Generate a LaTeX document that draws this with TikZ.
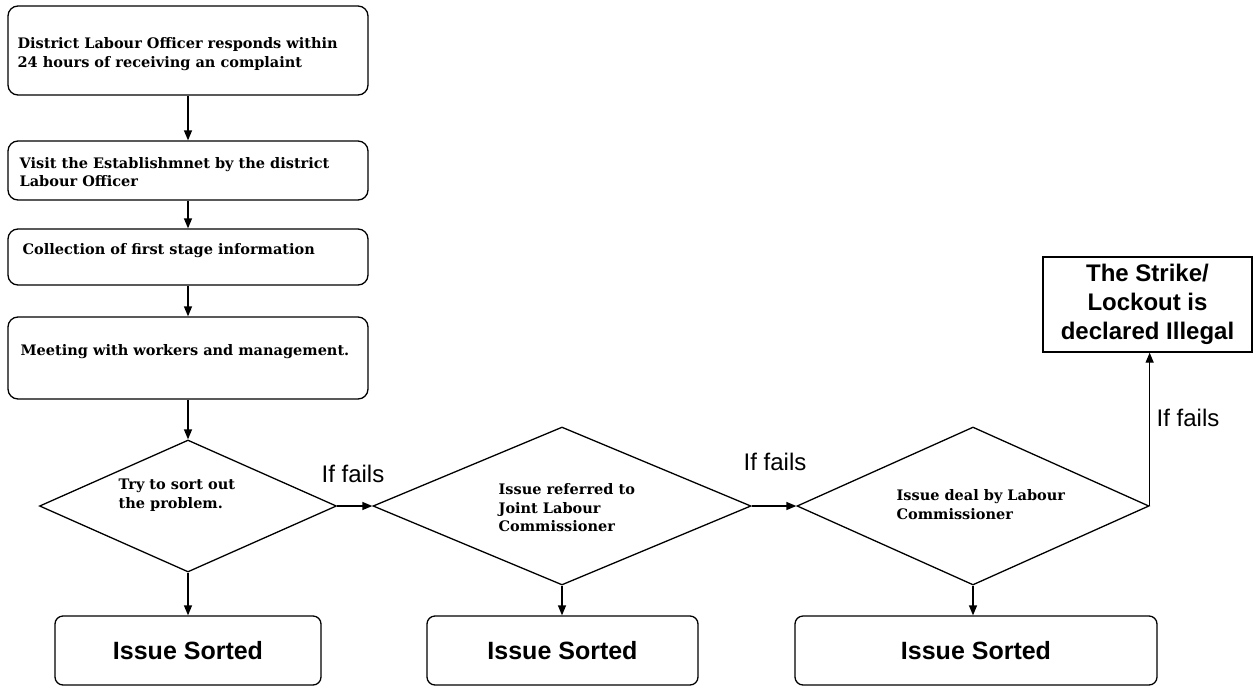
\documentclass[tikz,border=0pt]{standalone}
\usepackage{fontspec}
\usetikzlibrary{shapes.geometric,arrows.meta}
\newfontfamily\stepfont{DejaVu Serif}
\newfontfamily\headfont{Liberation Sans}

\begin{document}
\begin{tikzpicture}[x=1pt,y=-1pt,
  line width=1.3pt,
  stepbox/.style={draw, rounded corners=10pt, inner sep=0pt, minimum width=360pt},
  endbox/.style={draw, rounded corners=8pt, inner sep=0pt, minimum height=69pt,
    font=\headfont\bfseries\fontsize{25}{28}\selectfont},
  decision/.style={draw, diamond, inner sep=0pt},
  steptext/.style={anchor=west, inner sep=0pt, align=left,
    font=\stepfont\bfseries\fontsize{14.5}{18.5}\selectfont},
  faillabel/.style={inner sep=0pt, font=\headfont\fontsize{24}{26}\selectfont},
  arr/.style={-{Triangle[length=10pt,width=8pt]}}
]
\useasboundingbox (0,0) rectangle (1253,686);

% procedure steps
\node[stepbox, minimum height=89pt] (b1) at (188,50.5) {};
\node[steptext] (t1) at (17,54) {District Labour Officer responds within\\24 hours of receiving an complaint};
\node[stepbox, minimum height=59pt] (b2) at (188,170.5) {};
\node[steptext] (t2) at (19,172) {Visit the Establishmnet by the district\\Labour Officer};
\node[stepbox, minimum height=56pt] (b3) at (188,257) {};
\node[steptext] (t3) at (22,250.5) {Collection of first stage information};
\node[stepbox, minimum height=82pt] (b4) at (188,358) {};
\node[steptext] (t4) at (20,351.5) {Meeting with workers and management.};

% decisions
\node[decision, minimum width=297pt, minimum height=132pt] (d1) at (188,506) {};
\node[steptext] (u1) at (118,495) {Try to sort out\\the problem.};
\node[decision, minimum width=378pt, minimum height=158pt] (d2) at (562,506) {};
\node[steptext] (u2) at (498,508) {Issue referred to\\Joint Labour\\Commissioner};
\node[decision, minimum width=352pt, minimum height=158pt] (d3) at (973,506) {};
\node[steptext] (u3) at (896,504.5) {Issue deal by Labour\\Commissioner};

% outcomes
\node[endbox, minimum width=266pt] (e1) at (188,650.5) {Issue Sorted};
\node[endbox, minimum width=271pt] (e2) at (562.5,650.5) {Issue Sorted};
\node[endbox, minimum width=362pt] (e3) at (976,650.5) {Issue Sorted};
\node[draw, inner sep=0pt, minimum width=209pt, minimum height=95pt, align=center,
  font=\headfont\bfseries\fontsize{24}{29}\selectfont] (strike) at (1147.5,304.5)
  {The Strike/\\Lockout is\\declared Illegal};

% connectors
\draw[arr] (b1) -- (b2);
\draw[arr] (b2) -- (b3);
\draw[arr] (b3) -- (b4);
\draw[arr] (b4) -- (d1.north);
\draw[arr] (d1.south) -- (e1);
\draw[arr] (d2.south) -- (e2.north -| d2.south);
\draw[arr] (d3.south) -- (e3.north -| d3.south);
\draw[arr] (d1.east) -- (d2.west);
\draw[arr] (d2.east) -- (d3.west);
\draw[arr] (d3.east) -- (d3.east |- strike.south);

% branch labels
\node[faillabel] (f1) at (353,474) {If fails};
\node[faillabel] (f2) at (775,462) {If fails};
\node[faillabel, anchor=west] (f3) at (1156,418) {If fails};
\end{tikzpicture}
\end{document}
